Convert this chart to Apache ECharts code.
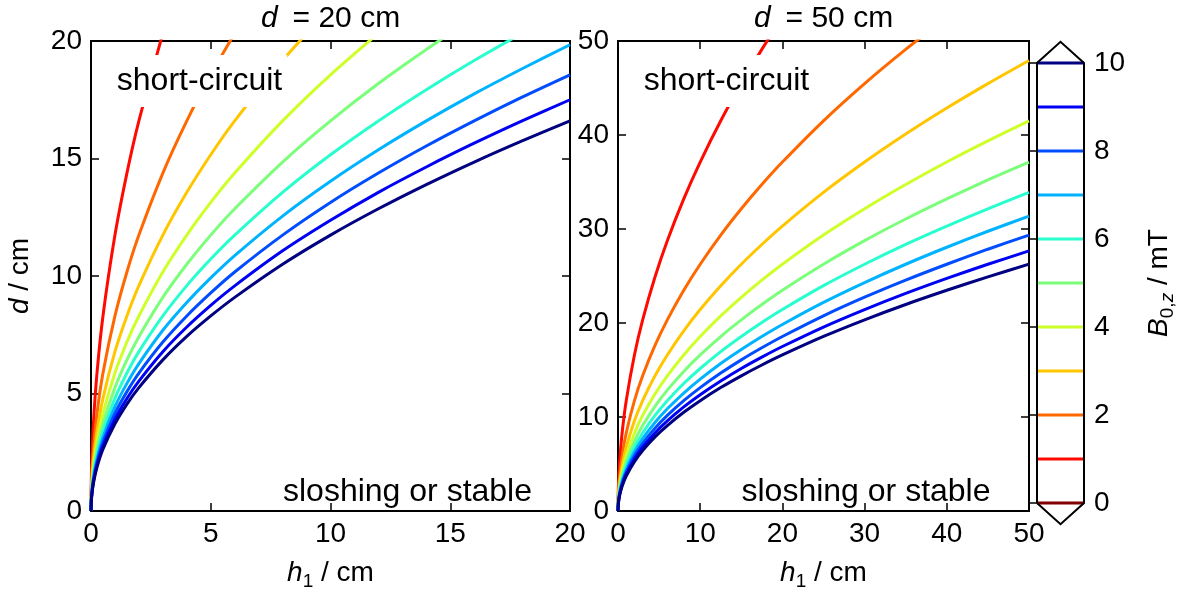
<!DOCTYPE html>
<html>
<head>
<meta charset="utf-8">
<script src="https://cdn.jsdelivr.net/npm/echarts@6/dist/echarts.min.js"></script>
<style>
html,body{margin:0;padding:0;background:#fff;}
#chart{width:1178px;height:596px;}
</style>
</head>
<body>
<div id="chart"></div>
<script>
// ---- data ----
const LEVELS = [1, 2, 3, 4, 5, 6, 7, 8, 9, 10];
const CB_LEVELS = [0, 1, 2, 3, 4, 5, 6, 7, 8, 9, 10];

// left panel (d = 20 cm): h1 grid and d contour values per level
const H_LEFT = [0, 0.02, 0.1, 0.25, 0.5, 1, 1.5, 2, 3, 4, 5, 6, 8, 10, 12, 14, 16, 18, 20];
const D_LEFT_1  = [0, 1.66, 3.71, 5.87, 8.30, 11.74, 14.38, 16.60, 20.33];
const D_LEFT_2  = [0, 1.17, 2.62, 4.15, 5.87, 8.30, 10.17, 11.74, 14.38, 16.60, 18.56, 20.33];
const D_LEFT_3  = [0, 0.96, 2.14, 3.39, 4.79, 6.78, 8.30, 9.59, 11.74, 13.56, 15.16, 16.60, 19.17, 21.43];
const D_LEFT_4  = [0, 0.83, 1.86, 2.94, 4.15, 5.87, 7.19, 8.30, 10.17, 11.74, 13.13, 14.38, 16.60, 18.56, 20.33];
const D_LEFT_5  = [0, 0.74, 1.66, 2.63, 3.71, 5.25, 6.43, 7.42, 9.09, 10.50, 11.74, 12.86, 14.85, 16.60, 18.19, 19.64, 21.00];
const D_LEFT_6  = [0, 0.68, 1.52, 2.40, 3.39, 4.79, 5.87, 6.78, 8.30, 9.59, 10.72, 11.74, 13.56, 15.16, 16.60, 17.93, 19.17, 20.33];
const D_LEFT_7  = [0, 0.63, 1.40, 2.22, 3.14, 4.44, 5.43, 6.27, 7.69, 8.87, 9.92, 10.87, 12.55, 14.03, 15.37, 16.60, 17.75, 18.82, 19.84];
const D_LEFT_8  = [0, 0.59, 1.31, 2.08, 2.94, 4.15, 5.08, 5.87, 7.19, 8.30, 9.28, 10.17, 11.74, 13.13, 14.38, 15.53, 16.60, 17.61, 18.56];
const D_LEFT_9  = [0, 0.55, 1.24, 1.96, 2.77, 3.91, 4.79, 5.53, 6.78, 7.83, 8.75, 9.58, 11.07, 12.37, 13.56, 14.64, 15.65, 16.60, 17.50];
const D_LEFT_10 = [0, 0.53, 1.17, 1.86, 2.63, 3.71, 4.55, 5.25, 6.43, 7.43, 8.30, 9.09, 10.50, 11.74, 12.86, 13.89, 14.85, 15.75, 16.60];

// right panel (d = 50 cm)
const H_RIGHT = [0, 0.05, 0.2, 0.5, 1, 2, 3, 4.5, 6, 8, 10, 12.5, 15, 17.5, 20, 25, 30, 35, 40, 45, 50];
const D_RIGHT_1  = [0, 2.63, 5.25, 8.30, 11.74, 16.60, 20.33, 24.90, 28.76, 33.21, 37.12, 41.51, 45.47, 49.11, 52.50];
const D_RIGHT_2  = [0, 1.86, 3.71, 5.87, 8.30, 11.74, 14.38, 17.61, 20.33, 23.48, 26.25, 29.35, 32.15, 34.73, 37.12, 41.51, 45.47, 49.11, 52.50];
const D_RIGHT_3  = [0, 1.52, 3.03, 4.79, 6.78, 9.59, 11.74, 14.38, 16.60, 19.17, 21.43, 23.96, 26.25, 28.35, 30.31, 33.89, 37.12, 40.10, 42.87, 45.47, 47.93];
const D_RIGHT_4  = [0, 1.31, 2.63, 4.15, 5.87, 8.30, 10.17, 12.45, 14.38, 16.60, 18.56, 20.75, 22.73, 24.56, 26.25, 29.35, 32.15, 34.73, 37.13, 39.38, 41.51];
const D_RIGHT_5  = [0, 1.17, 2.35, 3.71, 5.25, 7.42, 9.09, 11.14, 12.86, 14.85, 16.60, 18.56, 20.33, 21.96, 23.48, 26.25, 28.76, 31.06, 33.20, 35.22, 37.12];
const D_RIGHT_6  = [0, 1.07, 2.14, 3.39, 4.79, 6.78, 8.30, 10.17, 11.74, 13.56, 15.16, 16.95, 18.56, 20.05, 21.43, 23.97, 26.25, 28.36, 30.31, 32.15, 33.89];
const D_RIGHT_7  = [0, 0.99, 1.98, 3.14, 4.44, 6.27, 7.69, 9.41, 10.87, 12.55, 14.03, 15.69, 17.18, 18.56, 19.84, 22.19, 24.30, 26.25, 28.06, 29.76, 31.37];
const D_RIGHT_8  = [0, 0.93, 1.86, 2.94, 4.15, 5.87, 7.19, 8.81, 10.17, 11.74, 13.13, 14.68, 16.08, 17.36, 18.56, 20.76, 22.74, 24.56, 26.25, 27.85, 29.35];
const D_RIGHT_9  = [0, 0.87, 1.75, 2.77, 3.91, 5.53, 6.78, 8.30, 9.58, 11.07, 12.37, 13.83, 15.16, 16.37, 17.50, 19.57, 21.43, 23.15, 24.75, 26.25, 27.67];
const D_RIGHT_10 = [0, 0.83, 1.66, 2.63, 3.71, 5.25, 6.43, 7.88, 9.09, 10.50, 11.74, 13.13, 14.38, 15.53, 16.60, 18.57, 20.34, 21.97, 23.48, 24.91, 26.26];

const D_LEFT = [D_LEFT_1, D_LEFT_2, D_LEFT_3, D_LEFT_4, D_LEFT_5, D_LEFT_6, D_LEFT_7, D_LEFT_8, D_LEFT_9, D_LEFT_10];
const D_RIGHT = [D_RIGHT_1, D_RIGHT_2, D_RIGHT_3, D_RIGHT_4, D_RIGHT_5, D_RIGHT_6, D_RIGHT_7, D_RIGHT_8, D_RIGHT_9, D_RIGHT_10];

// ---- styles ----
const COLORS = {
  0: '#800000', 1: '#ff0900', 2: '#ff6800', 3: '#ffc600', 4: '#ceff29',
  5: '#7bff7b', 6: '#29ffce', 7: '#00b3ff', 8: '#004cff', 9: '#0000f3', 10: '#000080'
};
const FONT = 'Liberation Sans';
const FS = 28;
const FS_TITLE = 30;
const FS_ANN = 32;

const chart = echarts.init(document.getElementById('chart'), null, {renderer: 'canvas'});

function zip(h, d) { return d.map((v, i) => [h[i], v]); }

const axisCommon = {
  type: 'value',
  axisLine: {show: true, onZero: false, lineStyle: {color: '#000', width: 2}},
  axisTick: {show: true, inside: true, length: 8, lineStyle: {color: '#000', width: 1.5}},
  splitLine: {show: false},
  axisLabel: {color: '#000', fontSize: FS, fontFamily: FONT, margin: 9}
};
function ax(extra) { return Object.assign({}, JSON.parse(JSON.stringify(axisCommon)), extra); }

const nameRich = {
  i: {fontStyle: 'italic', fontSize: FS, fontFamily: FONT, color: '#000'},
  n: {fontSize: FS, fontFamily: FONT, color: '#000'},
  s: {fontSize: 19, fontFamily: FONT, color: '#000', verticalAlign: 'bottom', lineHeight: 35},
  si: {fontSize: 19, fontFamily: FONT, color: '#000', fontStyle: 'italic', verticalAlign: 'bottom', lineHeight: 35}
};
const titleRich = {
  i: {fontStyle: 'italic', fontSize: FS_TITLE, fontFamily: FONT, color: '#000'},
  n: {fontSize: FS_TITLE, fontFamily: FONT, color: '#000'}
};

const series = [];
LEVELS.forEach((lv, k) => {
  series.push({
    type: 'line', xAxisIndex: 0, yAxisIndex: 0, data: zip(H_LEFT, D_LEFT[k]),
    showSymbol: false, smooth: 0.25, clip: true,
    lineStyle: {color: COLORS[lv], width: 3}, itemStyle: {color: COLORS[lv]}, silent: true, z: 2
  });
  series.push({
    type: 'line', xAxisIndex: 2, yAxisIndex: 2, data: zip(H_RIGHT, D_RIGHT[k]),
    showSymbol: false, smooth: 0.25, clip: true,
    lineStyle: {color: COLORS[lv], width: 3}, itemStyle: {color: COLORS[lv]}, silent: true, z: 2
  });
});
// colorbar level lines
CB_LEVELS.forEach(lv => {
  series.push({
    type: 'line', xAxisIndex: 4, yAxisIndex: 4, data: [[0, lv], [1, lv]],
    showSymbol: false, clip: false, silent: true,
    lineStyle: {color: COLORS[lv], width: 3}, z: 3
  });
});
// colorbar outline (rectangle with extension triangles)
series.push({
  type: 'line', xAxisIndex: 4, yAxisIndex: 4,
  data: [[0, 0], [0, 10], [0.5, 10.48], [1, 10], [1, 0], [0.5, -0.48], [0, 0]],
  showSymbol: false, clip: false, silent: true,
  lineStyle: {color: '#000', width: 2, join: 'miter'}, z: 4
});

const option = {
  backgroundColor: '#fff',
  animation: false,
  textStyle: {fontFamily: FONT},
  grid: [
    {left: 91, top: 41, width: 479, height: 485},
    {left: 618, top: 41, width: 411, height: 485},
    {left: 1037, top: 63, width: 61, height: 440}
  ],
  xAxis: [
    ax({gridIndex: 0, position: 'bottom', min: 0, max: 20, interval: 5,
        name: '{i|h}{s|1}{n| / cm}', nameLocation: 'middle', nameGap: 45,
        nameTextStyle: {rich: nameRich}}),
    ax({gridIndex: 0, position: 'top', min: 0, max: 20, interval: 5, axisLabel: {show: false}}),
    ax({gridIndex: 1, position: 'bottom', min: 0, max: 50, interval: 10,
        name: '{i|h}{s|1}{n| / cm}', nameLocation: 'middle', nameGap: 45,
        nameTextStyle: {rich: nameRich}}),
    ax({gridIndex: 1, position: 'top', min: 0, max: 50, interval: 10, axisLabel: {show: false}}),
    {type: 'value', gridIndex: 2, min: 0, max: 1, show: false}
  ],
  yAxis: [
    ax({gridIndex: 0, position: 'left', min: 0, max: 20, interval: 5,
        name: '{i|d}{n| / cm}', nameLocation: 'middle', nameGap: 57, nameRotate: 90,
        nameTextStyle: {rich: nameRich}}),
    ax({gridIndex: 0, position: 'right', min: 0, max: 20, interval: 5, axisLabel: {show: false}}),
    ax({gridIndex: 1, position: 'left', min: 0, max: 50, interval: 10}),
    ax({gridIndex: 1, position: 'right', min: 0, max: 50, interval: 10, axisLabel: {show: false}}),
    ax({gridIndex: 2, position: 'right', min: 0, max: 10, interval: 2,
        axisLine: {show: false},
        axisTick: {show: true, inside: true, length: 7, lineStyle: {color: '#000', width: 1.5}},
        axisLabel: {color: '#000', fontSize: FS, fontFamily: FONT, margin: 10},
        name: '{i|B}{s|0,}{si|z}{n| / mT}', nameLocation: 'middle', nameGap: 58, nameRotate: 90,
        nameTextStyle: {rich: nameRich}})
  ],
  graphic: [
    {type: 'text', z: 100, x: 330.5, y: 19, style: {text: '{i|d}{n|\u2002= 20 cm}', align: 'center', verticalAlign: 'middle', rich: titleRich}},
    {type: 'text', z: 100, x: 823.5, y: 19, style: {text: '{i|d}{n|\u2002= 50 cm}', align: 'center', verticalAlign: 'middle', rich: titleRich}},
    {type: 'text', z: 100, x: 199.5, y: 81, style: {text: 'short-circuit', fontSize: FS_ANN, fontFamily: FONT, fill: '#000', align: 'center', verticalAlign: 'middle', backgroundColor: '#fff', padding: [10, 5]}},
    {type: 'text', z: 100, x: 726.5, y: 81, style: {text: 'short-circuit', fontSize: FS_ANN, fontFamily: FONT, fill: '#000', align: 'center', verticalAlign: 'middle', backgroundColor: '#fff', padding: [10, 5]}},
    {type: 'text', z: 100, x: 407.5, y: 492, style: {text: 'sloshing or stable', fontSize: FS_ANN, fontFamily: FONT, fill: '#000', align: 'center', verticalAlign: 'middle'}},
    {type: 'text', z: 100, x: 866, y: 492, style: {text: 'sloshing or stable', fontSize: FS_ANN, fontFamily: FONT, fill: '#000', align: 'center', verticalAlign: 'middle'}}
  ],
  series: series
};
chart.setOption(option);
</script>
</body>
</html>
